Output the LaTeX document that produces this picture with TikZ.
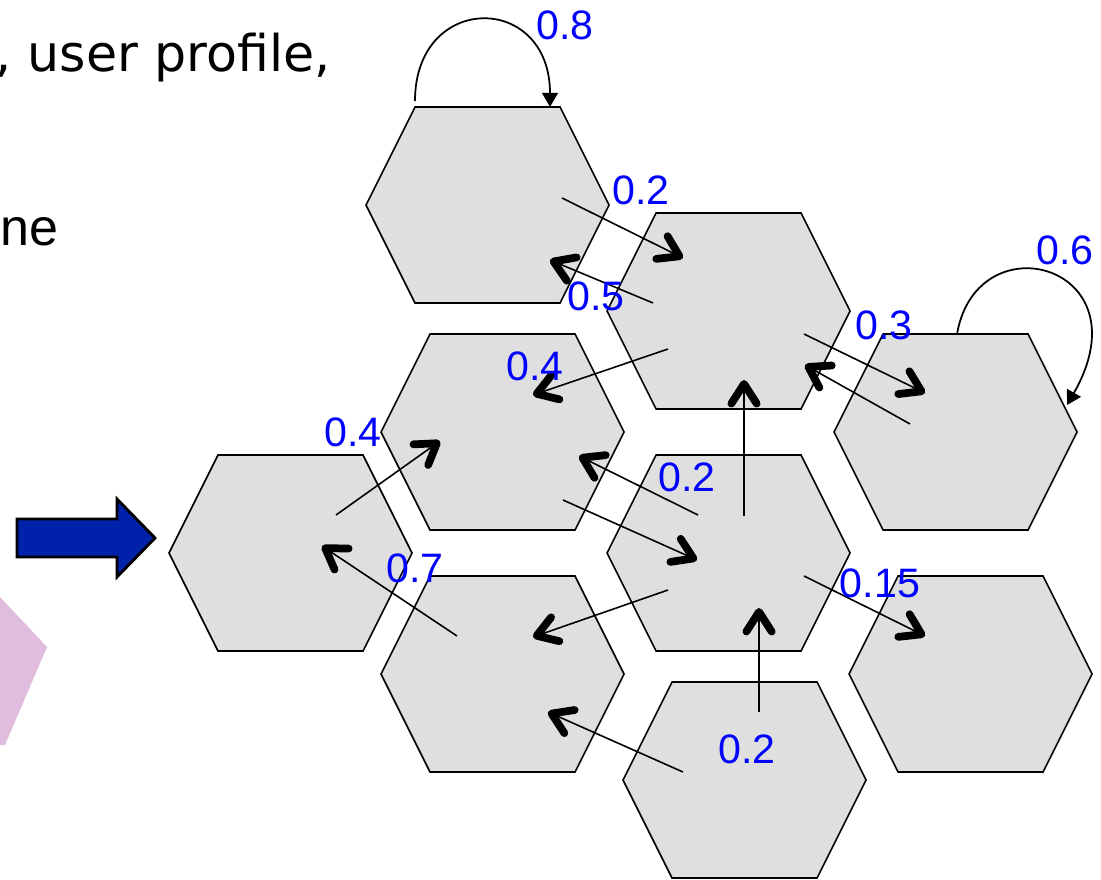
\documentclass[tikz,border=0pt]{standalone}
\usepackage{fontspec}
\setmainfont{Liberation Sans}
\newfontfamily\notefont{DejaVu Sans}
\usetikzlibrary{arrows.meta, calc}

\definecolor{cellgray}{RGB}{223,223,223}
\definecolor{probblue}{RGB}{0,0,255}
\definecolor{entryblue}{RGB}{0,34,170}
\definecolor{fadepink}{RGB}{224,188,222}

\begin{document}
\begin{tikzpicture}[
        x=0.01cm, y=-0.01cm,
        cell/.style={draw=black, fill=cellgray, line width=0.45pt},
        prob/.style={text=probblue, font=\fontsize{11.7}{14}\selectfont, inner sep=0pt},
        move/.style={-{Straight Barb[length=5.6pt, width=7.2pt, line width'=2.2pt, round]}, line width=0.45pt},
        stay/.style={-{Triangle[length=4pt, width=4.5pt]}, line width=0.5pt}
    ]
    \useasboundingbox (0,0) rectangle (1101,879);
    \clip (0,0) rectangle (1101,879);

    % text cut off at the left margin
    \node[anchor=base west, inner sep=0pt, font=\notefont\fontsize{14.4}{17}\selectfont] (intro) at (-5,72) {, user profile,};
    \node[anchor=base west, inner sep=0pt, font=\fontsize{14.8}{17}\selectfont] (rest) at (0,245) {ne};
    \fill[fadepink] (0,597) -- (47,647) -- (5,745) -- (0,745) -- cycle;

    % hexagonal cells
    \foreach \name/\pos in {top/{487,205}, upper/{728,311}, side/{955,432}, mid/{502,432}, start/{290,553}, hub/{728,553}, low/{502,674}, exit/{970,674}, bottom/{744,780}} {
        \coordinate (\name) at (\pos);
        \draw[cell] (\name) ++(-121,0) -- ++(49,-98) -- ++(145,0) -- ++(49,98) -- ++(-49,98) -- ++(-145,0) -- cycle;
    }

    % entry arrow
    \draw[fill=entryblue, line width=0.8pt] (17,519) -- (117,519) -- (117,499) -- (155,538) -- (117,577) -- (117,557) -- (17,557) -- cycle;

    % transitions between cells
    \draw[move] ($(top)+(75,-7)$) -- ($(upper)+(-45,-53)$);
    \draw[move] ($(upper)+(-75,-8)$) -- ($(top)+(63,55)$);
    \draw[move] ($(upper)+(-60,38)$) -- ($(mid)+(31,-37)$);
    \draw[move] ($(start)+(46,-38)$) -- ($(mid)+(-62,9)$);
    \draw[move] ($(low)+(-45,-38)$) -- ($(start)+(32,-7)$);
    \draw[move] ($(hub)+(-30,-38)$) -- ($(mid)+(77,24)$);
    \draw[move] ($(mid)+(61,68)$) -- ($(hub)+(-31,7)$);
    \draw[move] ($(hub)+(16,-37)$) -- ($(upper)+(16,69)$);
    \draw[move] ($(upper)+(76,23)$) -- ($(side)+(-30,-39)$);
    \draw[move] ($(side)+(-45,-8)$) -- ($(upper)+(77,54)$);
    \draw[move] ($(hub)+(76,23)$) -- ($(exit)+(-45,-38)$);
    \draw[move] ($(hub)+(-60,37)$) -- ($(low)+(31,-37)$);
    \draw[move] ($(bottom)+(15,-68)$) -- ($(hub)+(31,55)$);
    \draw[move] ($(bottom)+(-61,-8)$) -- ($(low)+(46,38)$);

    % staying in the same cell
    \draw[stay] ($(top)+(-72,-104)$) .. controls +(0,-109) and +(0,-115) .. ($(top)+(63,-98)$);
    \draw[stay] ($(side)+(2,-98)$) .. controls +(20,-115) and +(80,-140) .. ($(side)+(112,-27)$);

    % probabilities
    \node[prob] (p1) at (565,25) {0.8};
    \node[prob] (p2) at (641,190) {0.2};
    \node[prob] (p3) at (596,296) {0.5};
    \node[prob] (p4) at (535,366) {0.4};
    \node[prob] (p5) at (353,432) {0.4};
    \node[prob] (p6) at (415,568) {0.7};
    \node[prob] (p7) at (884,325) {0.3};
    \node[prob] (p8) at (1065,250) {0.6};
    \node[prob] (p9) at (687,477) {0.2};
    \node[prob] (p10) at (880,583) {0.15};
    \node[prob] (p11) at (747,749) {0.2};
\end{tikzpicture}
\end{document}
